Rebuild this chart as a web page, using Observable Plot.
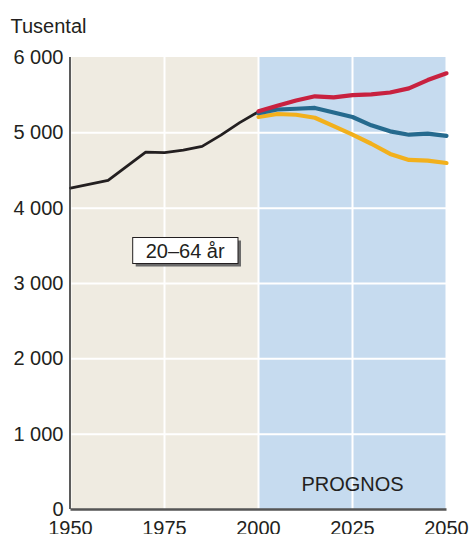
<!DOCTYPE html>
<html>
<head>
<meta charset="utf-8">
<script src="https://cdn.jsdelivr.net/npm/d3@7"></script>
<script src="https://cdn.jsdelivr.net/npm/@observablehq/plot@0.6"></script>
<style>
  body { margin: 0; background: #fff; }
  svg { display: block; }
</style>
</head>
<body>
<div id="chart"></div>
<script>
// Historical population 20–64 years (thousands)
const histYears = [1950, 1960, 1970, 1975, 1980, 1985, 1990, 1995, 2000];
const histValues = [4267, 4370, 4745, 4737, 4770, 4820, 4970, 5135, 5280];

// Forecast years and scenarios
const progYears = [2000, 2005, 2010, 2015, 2020, 2025, 2030, 2035, 2040, 2045, 2050];
const highValues = [5285, 5360, 5430, 5485, 5470, 5500, 5510, 5535, 5590, 5700, 5790];
const midValues  = [5260, 5310, 5320, 5330, 5270, 5210, 5100, 5020, 4975, 4990, 4960];
const lowValues  = [5210, 5250, 5240, 5200, 5090, 4975, 4855, 4720, 4640, 4630, 4600];

// Periods (background)
const periodStart = [1950, 2000];
const periodEnd = [2000, 2050];
const periodName = ["historik", "prognos"];

// Ticks
const xTicks = [1950, 1975, 2000, 2025, 2050];
const yTicks = [0, 1000, 2000, 3000, 4000, 5000, 6000];

// Labels
const unitLabel = "Tusental";
const ageLabel = {x: 1980.5, y: 3430, text: "20–64 år"};
const progLabel = {x: 2025, y: 250, text: "PROGNOS"};

const periods = periodStart.map((s, i) => ({x1: s, x2: periodEnd[i], name: periodName[i]}));
const hist = histYears.map((x, i) => ({x, y: histValues[i]}));
const mk = vals => progYears.map((x, i) => ({x, y: vals[i]}));
const high = mk(highValues), mid = mk(midValues), low = mk(lowValues);

const fmt = d => d3.format(",")(d).replace(/,/g, " ");

const chart = Plot.plot({
  width: 472,
  height: 534,
  marginTop: 57,
  marginLeft: 70,
  marginRight: 26,
  marginBottom: 25,
  style: {fontFamily: "'Liberation Sans', Arial, sans-serif", fontSize: "20px", color: "#231f20", background: "#fff", overflow: "visible"},
  x: {domain: [1950, 2050]},
  y: {domain: [0, 6000]},
  marks: [
    Plot.rect(periods, {x1: "x1", x2: "x2", y1: 0, y2: 6000,
      fill: d => d.name === "historik" ? "#efebe1" : "#c6dbef"}),
    Plot.ruleX(xTicks, {stroke: "#fff", strokeWidth: 2, y1: 0, y2: 6000}),
    Plot.ruleY(yTicks.filter(d => d > 0 && d < 6000), {stroke: "#fff", strokeWidth: 2, x1: 1950, x2: 2050}),
    Plot.line(hist, {x: "x", y: "y", stroke: "#231f20", strokeWidth: 2.8}),
    Plot.line(low, {x: "x", y: "y", stroke: "#f2b01c", strokeWidth: 4.2}),
    Plot.line(mid, {x: "x", y: "y", stroke: "#256a8e", strokeWidth: 4.2}),
    Plot.line(high, {x: "x", y: "y", stroke: "#c8213f", strokeWidth: 4.2}),
    Plot.ruleX([1950], {y1: 0, y2: 6000, stroke: "#333", strokeWidth: 1.6, dx: -0.5}),
    Plot.ruleY([0], {x1: 1950, x2: 2050, stroke: "#555", strokeWidth: 2.4, dx: 0.5}),
    Plot.axisY(yTicks, {tickSize: 0, tickPadding: 7, tickFormat: fmt, label: null}),
    Plot.axisX(xTicks, {tickSize: 0, tickPadding: 11, tickFormat: d => String(d), label: null}),
    Plot.text([ageLabel], {x: "x", y: "y", text: "text", lineAnchor: "middle", fill: "#231f20"}),
    Plot.text([progLabel], {x: "x", y: "y", text: "text", lineAnchor: "bottom", fill: "#231f20"}),
    Plot.text([unitLabel], {frameAnchor: "top-left", text: d => d, dx: -60, dy: -25, textAnchor: "start", lineAnchor: "bottom", fill: "#231f20"})
  ]
});

document.getElementById("chart").appendChild(chart);

// Add box with shadow behind the age label
const texts = Array.from(chart.querySelectorAll("text")).filter(t => t.textContent === ageLabel.text);
texts.forEach(t => {
  const b = t.getBBox();
  const padX = 13, padY = 2;
  const g = t.parentNode;
  const tr = t.getAttribute("transform");
  const ns = "http://www.w3.org/2000/svg";
  const mkRect = (off, fill, stroke) => {
    const r = document.createElementNS(ns, "rect");
    r.setAttribute("x", b.x - padX + off);
    r.setAttribute("y", b.y - padY + off);
    r.setAttribute("width", b.width + 2 * padX);
    r.setAttribute("height", b.height + 2 * padY);
    r.setAttribute("fill", fill);
    if (stroke) { r.setAttribute("stroke", stroke); r.setAttribute("stroke-width", 1); }
    if (tr) r.setAttribute("transform", tr);
    return r;
  };
  g.insertBefore(mkRect(3, "#6b6b6b"), t);
  g.insertBefore(mkRect(0, "#fff", "#231f20"), t);
});
</script>
</body>
</html>
